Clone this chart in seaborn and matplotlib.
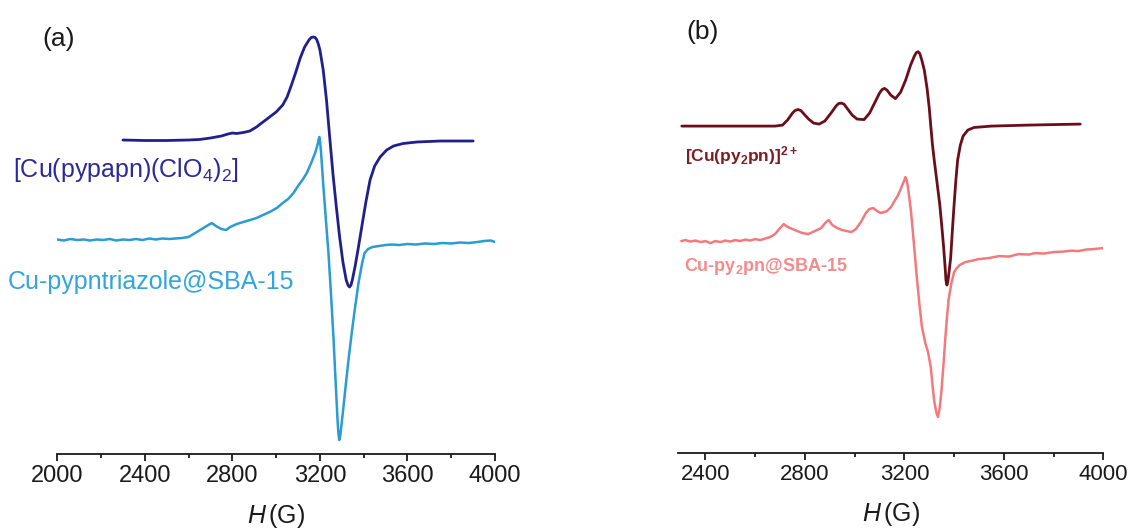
import numpy as np
import pandas as pd
import matplotlib
import seaborn as sns
from matplotlib import pyplot as plt
matplotlib.use("Agg")

# ---- panel (a): field (G) and derivative signal relative to each baseline
H_pypapn = [2300, 2400, 2500, 2600, 2650, 2700, 2750, 2780, 2800, 2820, 2850, 2880, 2910, 2940, 2970,
            3000, 3030, 3050, 3070, 3090, 3110, 3130, 3150, 3160, 3170, 3178, 3185, 3192, 3200, 3215,
            3230, 3245, 3260, 3275, 3290, 3305, 3320, 3328, 3335, 3342, 3348, 3361, 3376, 3391, 3410,
            3429, 3450, 3475, 3505, 3536, 3580, 3643, 3750, 3900]
sig_pypapn = [0, -0.5, -0.5, 0, 0.5, 2, 4, 6, 7, 6.5, 7.5, 9, 13, 18, 23,
              28, 35, 43, 55, 68, 82, 93, 100, 102.5, 103, 102.5, 100.5, 96.5, 90, 70,
              40, 2, -35, -67, -97, -122, -140, -145, -147, -145, -140, -126, -107, -87, -62,
              -40, -26, -17, -10, -6, -3.5, -2, -1, -1]

H_triaz = [2000, 2030, 2060, 2090, 2120, 2150, 2180, 2210, 2240, 2270, 2300, 2330, 2360, 2390, 2420,
           2450, 2480, 2510, 2540, 2570, 2600, 2630, 2660, 2690, 2706, 2725, 2750, 2771, 2790, 2820,
           2850, 2881, 2910, 2940, 2970, 3003, 3030, 3055, 3079, 3100, 3120, 3140, 3160, 3178, 3190,
           3194, 3197, 3200, 3205, 3216, 3228, 3239, 3250, 3262, 3272, 3280, 3284, 3288, 3291, 3295,
           3305, 3318, 3332, 3347, 3362, 3377, 3392, 3404, 3420, 3440, 3470, 3500, 3530, 3560, 3600,
           3640, 3680, 3720, 3760, 3800, 3840, 3880, 3920, 3950, 3980, 4000]
sig_triaz = [0.5, -0.5, 1, 0, 0.5, -0.5, 0.5, 0, 1, -0.5, 0.5, 0, 1, 0, 1.5,
             0.5, 1.5, 1, 1.5, 2, 3, 7, 11, 15, 17, 14, 11, 10, 13, 16,
             18, 20, 22, 25, 28, 32, 37, 41, 47, 54, 60, 67, 77, 87, 96,
             100.5, 103, 100, 88, 53, 18, -13, -52, -98, -143, -178, -192, -200, -198, -192,
             -172, -145, -117, -90, -65, -42, -24, -13, -9, -7, -6, -5, -4.5, -5, -4,
             -4.5, -3.5, -4, -3, -3.5, -2.5, -3, -2, -1, -0.5, -2]

# ---- panel (b)
H_py2pn = [2305, 2400, 2500, 2600, 2680, 2710, 2730, 2750, 2760, 2772, 2784, 2800, 2815, 2835, 2857,
           2880, 2905, 2925, 2935, 2946, 2957, 2972, 2990, 3010, 3038, 3060, 3080, 3100, 3110, 3120,
           3130, 3145, 3164, 3185, 3205, 3225, 3240, 3248, 3255, 3262, 3270, 3280, 3291, 3300, 3306,
           3313, 3320, 3330, 3342, 3350, 3357, 3364, 3367, 3371, 3375, 3380, 3386, 3393, 3400, 3407,
           3414, 3425, 3436, 3455, 3480, 3550, 3700, 3800, 3907]
sig_py2pn = [0, 0, 0, 0, 0, 1, 6, 13, 15.5, 16.6, 15.5, 11, 7, 3, 2,
             5, 13, 20, 22.5, 23, 22, 17, 11, 7, 6.5, 13, 23, 33, 36.5, 37.7,
             36, 31, 27.5, 34, 46, 61, 70, 73.5, 74.4, 72.5, 66, 56, 38, 18, 0.3,
             -19, -34, -54, -78, -99, -119, -142, -154, -159, -155, -145, -132, -104, -78, -54,
             -34, -19, -10, -4, -1.4, 0, 1, 1.5, 2]

H_sba = [2303, 2320, 2340, 2360, 2380, 2400, 2420, 2440, 2460, 2480, 2500, 2520, 2540, 2560, 2580,
         2600, 2620, 2640, 2660, 2680, 2700, 2715, 2725, 2740, 2760, 2790, 2813, 2840, 2865, 2885,
         2896, 2910, 2930, 2950, 2970, 2987, 3005, 3025, 3045, 3059, 3075, 3090, 3105, 3117, 3130,
         3146, 3160, 3175, 3190, 3200, 3204, 3208, 3213, 3226, 3237, 3248, 3260, 3270, 3284, 3295,
         3306, 3313, 3320, 3328, 3335, 3342, 3349, 3357, 3364, 3371, 3378, 3389, 3400, 3411, 3422,
         3445, 3465, 3500, 3540, 3581, 3620, 3660, 3700, 3726, 3760, 3800, 3840, 3871, 3900, 3930,
         3960, 4000]
sig_sba = [0, 1, -0.5, 0.5, -1, 0, -2, 0, -1, 0.5, -0.5, 1, 0, 1.5, 0.5,
           2, 1, 2.5, 4, 7, 13, 17, 15, 13, 11, 8, 7, 10, 13, 19,
           21, 16, 13, 11, 10, 9, 12, 19, 28, 32, 33, 30, 28, 29, 30,
           34, 40, 46, 55, 61, 64, 62, 56, 31, 1, -31, -62, -85, -102, -111,
           -126, -144, -160, -171, -176, -167, -150, -124, -99, -77, -58, -42, -31, -27, -24,
           -21, -20, -18, -17, -15, -15.5, -13, -13.5, -12, -12.5, -11, -10.5, -9.6, -10, -8.5,
           -8, -7]

sns.set_style("white")
plt.rcParams["font.family"] = ["Liberation Sans", "DejaVu Sans"]
plt.rcParams["mathtext.fontset"] = "custom"
plt.rcParams["mathtext.rm"] = "Liberation Sans"
plt.rcParams["mathtext.it"] = "Liberation Sans:italic"
plt.rcParams["mathtext.bf"] = "Liberation Sans:bold"

fig = plt.figure(figsize=(11.32, 5.32), dpi=100)
ax_a = fig.add_axes([0.0506, 0.1466, 0.3867, 0.8346])
ax_b = fig.add_axes([0.599, 0.149, 0.3757, 0.832])


def spectrum(ax, H, sig, offset, color, lw):
    df = pd.DataFrame({"H": H, "I": np.array(sig) + offset})
    sns.lineplot(data=df, x="H", y="I", ax=ax, color=color, lw=lw, sort=False)


spectrum(ax_a, H_pypapn, sig_pypapn, 314, "#20208c", 2.0)
spectrum(ax_a, H_triaz, sig_triaz, 214, "#2a9bd3", 1.8)
spectrum(ax_b, H_py2pn, sig_py2pn, 326.7, "#6a0e1a", 2.0)
spectrum(ax_b, H_sba, sig_sba, 211.7, "#f37a7c", 1.8)

for ax, lim, ylim, fs in [(ax_a, (2000, 4000), 444, 17), (ax_b, (2290, 4000), 442.7, 16)]:
    ax.set_xlim(*lim)
    ax.set_ylim(0, ylim)
    for s in ["top", "right", "left"]:
        ax.spines[s].set_visible(False)
    ax.spines["bottom"].set_linewidth(1.3)
    ax.spines["bottom"].set_color("#1a1a1a")
    ax.set_yticks([])
    ax.set_xticks(np.arange(2400 if lim[0] > 2000 else 2000, 4001, 400))
    ax.set_xticks(np.arange(2200 if lim[0] < 2200 else 2600, 4000, 400), minor=True)
    ax.tick_params(axis="x", which="major", direction="out", length=5, width=1.3,
                   labelsize=fs, pad=3, color="#1a1a1a", labelcolor="#1a1a1a", bottom=True)
    ax.tick_params(axis="x", which="minor", direction="out", length=3, width=1.3,
                   color="#1a1a1a", bottom=True)
    ax.set_xlabel("$H\\,$(G)", fontsize=18, labelpad=11, color="#1a1a1a")
    ax.set_ylabel("")

ax_a.text(2005, 415, "(a)", fontsize=19, ha="center", va="center", color="#1a1a1a")
ax_b.text(2387, 421, "(b)", fontsize=19, ha="center", va="center", color="#1a1a1a")

ax_a.text(1797, 284, r"[Cu(pypapn)(ClO$_\mathrm{4}$)$_\mathrm{2}$]", fontsize=18,
          color="#2a2a9a", ha="left", va="center")
ax_a.text(1775, 172, "Cu-pypntriazole@SBA-15", fontsize=18,
          color="#34a4dc", ha="left", va="center")
ax_b.text(2318, 297, r"[Cu(py$_\mathbf{2}$pn)]$^\mathbf{2+}$", fontsize=12.5,
          color="#7d1d22", ha="left", va="center", fontweight="bold")
ax_b.text(2312, 186, r"Cu-py$_\mathbf{2}$pn@SBA-15", fontsize=13,
          color="#f48c8c", ha="left", va="center", fontweight="bold")

fig.savefig("out.png", dpi=100)
